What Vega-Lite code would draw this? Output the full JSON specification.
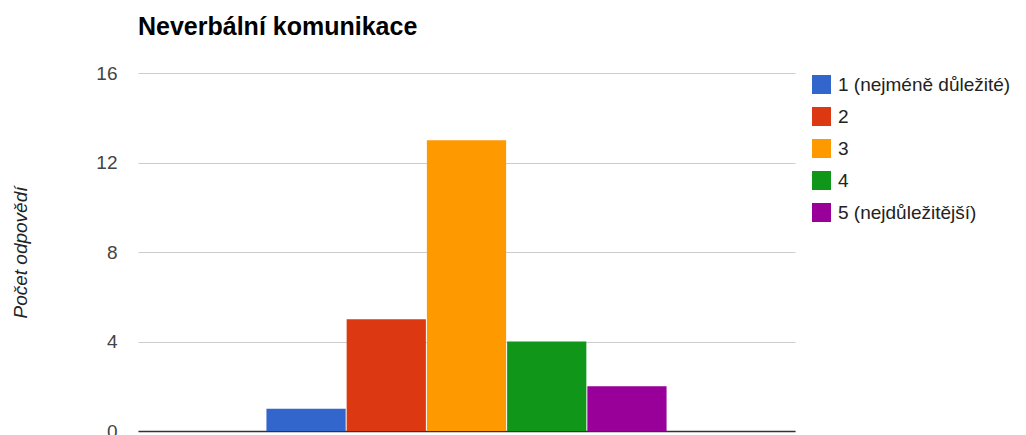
{
  "$schema": "https://vega.github.io/schema/vega-lite/v6.json",
  "autosize": {"type": "none"},
  "width": 657,
  "height": 358,
  "padding": {"left": 138, "top": 73, "right": 231, "bottom": 4},
  "background": "white",
  "title": {
    "text": "Neverbální komunikace",
    "anchor": "start",
    "frame": "group",
    "font": "Liberation Sans",
    "fontSize": 25,
    "fontWeight": "bold",
    "color": "#000000",
    "baseline": "alphabetic",
    "offset": 4
  },
  "data": {
    "values": [
      {"skupina": "Neverbální komunikace", "kategorie": "1 (nejméně důležité)", "pocet": 1},
      {"skupina": "Neverbální komunikace", "kategorie": "2", "pocet": 5},
      {"skupina": "Neverbální komunikace", "kategorie": "3", "pocet": 13},
      {"skupina": "Neverbální komunikace", "kategorie": "4", "pocet": 4},
      {"skupina": "Neverbální komunikace", "kategorie": "5 (nejdůležitější)", "pocet": 2}
    ]
  },
  "mark": {"type": "bar"},
  "encoding": {
    "x": {
      "field": "skupina",
      "type": "nominal",
      "scale": {"paddingInner": 0, "paddingOuter": 0.321},
      "axis": {"labels": false, "ticks": false, "title": null, "domain": true, "domainColor": "#333333", "domainWidth": 1.5, "grid": false}
    },
    "xOffset": {
      "field": "kategorie",
      "type": "nominal",
      "scale": {"paddingInner": 0.0125, "paddingOuter": 0},
      "sort": ["1 (nejméně důležité)", "2", "3", "4", "5 (nejdůležitější)"]
    },
    "y": {
      "field": "pocet",
      "type": "quantitative",
      "scale": {"domain": [0, 16], "nice": false},
      "axis": {
        "values": [0, 4, 8, 12, 16],
        "title": "Počet odpovědí",
        "titleFont": "Liberation Sans",
        "titleFontSize": 19,
        "titleFontStyle": "italic",
        "titleFontWeight": "normal",
        "titleColor": "#222222",
        "titleAngle": -90,
        "titleX": -118,
        "titleY": 179,
        "titleAlign": "center",
        "titleBaseline": "middle",
        "labelFont": "Liberation Sans",
        "labelFontSize": 19,
        "labelColor": "#444444",
        "labelPadding": 21,
        "labelBaseline": "middle",
        "ticks": false,
        "domain": false,
        "grid": true,
        "gridColor": "#cccccc",
        "gridWidth": 1
      }
    },
    "color": {
      "field": "kategorie",
      "type": "nominal",
      "scale": {
        "domain": ["1 (nejméně důležité)", "2", "3", "4", "5 (nejdůležitější)"],
        "range": ["#3366cc", "#dc3912", "#ff9900", "#109618", "#990099"]
      },
      "legend": {
        "title": null,
        "orient": "right",
        "offset": 15,
        "padding": 2,
        "symbolType": "square",
        "symbolSize": 361,
        "symbolStrokeWidth": 0,
        "symbolOpacity": 1,
        "labelFont": "Liberation Sans",
        "labelFontSize": 19,
        "labelColor": "#222222",
        "labelOffset": 7,
        "rowPadding": 12,
        "labelLimit": 300
      }
    }
  },
  "config": {"view": {"stroke": null}}
}
